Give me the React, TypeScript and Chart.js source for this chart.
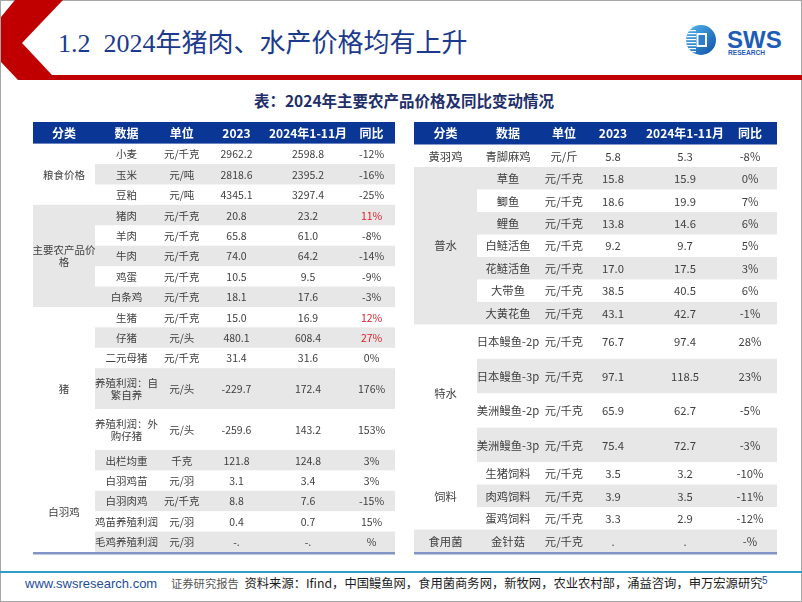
import React, { useEffect, useRef } from "react";
import { Chart, registerables } from "chart.js";

Chart.register(...registerables);

// ---------------- DATA ----------------
const headerLabels = ["分类", "数据", "单位", "2023", "2024年1-11月", "同比"];

// Left table
const leftCategories = ["粮食价格", "主要农产品价\n格", "猪", "白羽鸡"];
const leftCategorySizes = [3, 5, 6, 4];
const leftCategoryShaded = [false, true, false, false];
const leftItems = [
  "小麦", "玉米", "豆粕", "猪肉", "羊肉", "牛肉", "鸡蛋", "白条鸡",
  "生猪", "仔猪", "二元母猪", "养殖利润：自\n繁自养", "养殖利润：外\n购仔猪", "出栏均重",
  "白羽鸡苗", "白羽肉鸡", "鸡苗养殖利润", "毛鸡养殖利润",
];
const leftUnits = [
  "元/千克", "元/吨", "元/吨", "元/千克", "元/千克", "元/千克", "元/千克", "元/千克",
  "元/千克", "元/头", "元/千克", "元/头", "元/头", "千克",
  "元/羽", "元/千克", "元/羽", "元/羽",
];
const left2023: (number | null)[] = [
  2962.2, 2818.6, 4345.1, 20.8, 65.8, 74.0, 10.5, 18.1,
  15.0, 480.1, 31.4, -229.7, -259.6, 121.8, 3.1, 8.8, 0.4, null,
];
const left2024: (number | null)[] = [
  2598.8, 2395.2, 3297.4, 23.2, 61.0, 64.2, 9.5, 17.6,
  16.9, 608.4, 31.6, 172.4, 143.2, 124.8, 3.4, 7.6, 0.7, null,
];
const leftYoY: (number | null)[] = [
  -12, -16, -25, 11, -8, -14, -9, -3,
  12, 27, 0, 176, 153, 3, 3, -15, 15, null,
];
const leftRowSpans = [1, 1, 1, 1, 1, 1, 1, 1, 1, 1, 1, 2, 2, 1, 1, 1, 1, 1];
const leftRedItems = ["猪肉", "生猪", "仔猪"];

// Right table
const rightCategories = ["黄羽鸡", "普水", "特水", "饲料", "食用菌"];
const rightCategorySizes = [1, 7, 4, 3, 1];
const rightCategoryShaded = [false, true, false, false, true];
const rightItems = [
  "青脚麻鸡", "草鱼", "鲫鱼", "鲤鱼", "白鲢活鱼", "花鲢活鱼", "大带鱼", "大黄花鱼",
  "日本鳗鱼-2p", "日本鳗鱼-3p", "美洲鳗鱼-2p", "美洲鳗鱼-3p",
  "生猪饲料", "肉鸡饲料", "蛋鸡饲料", "金针菇",
];
const rightUnits = [
  "元/斤", "元/千克", "元/千克", "元/千克", "元/千克", "元/千克", "元/千克", "元/千克",
  "元/千克", "元/千克", "元/千克", "元/千克", "元/千克", "元/千克", "元/千克", "元/千克",
];
const right2023: (number | null)[] = [
  5.8, 15.8, 18.6, 13.8, 9.2, 17.0, 38.5, 43.1, 76.7, 97.1, 65.9, 75.4, 3.5, 3.9, 3.3, null,
];
const right2024: (number | null)[] = [
  5.3, 15.9, 19.9, 14.6, 9.7, 17.5, 40.5, 42.7, 97.4, 118.5, 62.7, 72.7, 3.2, 3.5, 2.9, null,
];
const rightYoY: (number | null)[] = [
  -8, 0, 7, 6, 5, 3, 6, -1, 28, 23, -5, -3, -10, -11, -12, null,
];
const rightRowSpans = [1, 1, 1, 1, 1, 1, 1, 1, 1.53, 1.53, 1.53, 1.53, 1, 1, 1, 1];
const rightRedItems: string[] = [];

const footerSource =
  "资料来源：Ifind，中国鳗鱼网，食用菌商务网，新牧网，农业农村部，涌益咨询，申万宏源研究";

// ---------------- STYLE / LAYOUT ----------------
const FONT = "'Noto Sans CJK SC', 'Noto Sans', sans-serif";
const HEADER_BG = "#0a3796";
const STRIPE = "#e7e7e7";
const TEXT = "#404040";
const RED = "#e3202c";
const BOTTOM_LINE = "#8394c6";

type Spec = {
  categories: string[];
  categorySizes: number[];
  categoryShaded: boolean[];
  items: string[];
  units: string[];
  v2023: (number | null)[];
  v2024: (number | null)[];
  yoy: (number | null)[];
  spans: number[];
  redItems: string[];
  missingValue: string;
  missingYoY: string;
};

type Layout = {
  left: number;
  top: number;
  width: number;
  height: number;
  colCenters: number[];
  catEdge: number;
  headerUnits: number;
  fontSize: number;
};

const leftSpec: Spec = {
  categories: leftCategories,
  categorySizes: leftCategorySizes,
  categoryShaded: leftCategoryShaded,
  items: leftItems,
  units: leftUnits,
  v2023: left2023,
  v2024: left2024,
  yoy: leftYoY,
  spans: leftRowSpans,
  redItems: leftRedItems,
  missingValue: "-.",
  missingYoY: "%",
};
const rightSpec: Spec = {
  categories: rightCategories,
  categorySizes: rightCategorySizes,
  categoryShaded: rightCategoryShaded,
  items: rightItems,
  units: rightUnits,
  v2023: right2023,
  v2024: right2024,
  yoy: rightYoY,
  spans: rightRowSpans,
  redItems: rightRedItems,
  missingValue: ".",
  missingYoY: "-%",
};

const leftLayout: Layout = {
  left: 33,
  top: 122,
  width: 362,
  height: 433,
  colCenters: [31, 93.6, 148.7, 203.5, 275, 338.6],
  catEdge: 62,
  headerUnits: 1.058,
  fontSize: 10.5,
};
const rightLayout: Layout = {
  left: 414,
  top: 122,
  width: 363,
  height: 433,
  colCenters: [31.5, 94, 150, 199, 271, 336],
  catEdge: 63,
  headerUnits: 1,
  fontSize: 11.3,
};

function fmt(v: number | null, missing: string) {
  return v === null ? missing : v.toFixed(1);
}
function fmtPct(v: number | null, missing: string) {
  return v === null ? missing : `${v}%`;
}

function makePlugin(spec: Spec, layout: Layout) {
  return {
    id: "tableCells",
    beforeDatasetsDraw(chart: any) {
      const { ctx } = chart;
      const xs = chart.scales.x;
      const ys = chart.scales.y;
      const X = (v: number) => xs.getPixelForValue(v);
      const Y = (v: number) => ys.getPixelForValue(v);
      const x0 = X(0);
      const x1 = X(layout.width);
      const xc = X(layout.catEdge);
      ctx.save();

      // header
      ctx.fillStyle = HEADER_BG;
      ctx.fillRect(x0, Y(0), x1 - x0, Y(layout.headerUnits) - Y(0));
      ctx.fillStyle = "#ffffff";
      ctx.font = `bold 12px ${FONT}`;
      ctx.textAlign = "center";
      ctx.textBaseline = "middle";
      headerLabels.forEach((h, i) => {
        ctx.fillText(h, X(layout.colCenters[i]), Y(layout.headerUnits / 2) + 0.5);
      });

      // row extents
      const tops: number[] = [];
      const bots: number[] = [];
      let pos = layout.headerUnits;
      spec.spans.forEach((s) => {
        tops.push(pos);
        pos += s;
        bots.push(pos);
      });

      // stripes
      spec.spans.forEach((_, i) => {
        if (i % 2 === 1) {
          ctx.fillStyle = STRIPE;
          ctx.fillRect(xc, Y(tops[i]), x1 - xc, Y(bots[i]) - Y(tops[i]));
        }
      });

      // category cells
      let r = 0;
      const lineGap = 12;
      const drawLines = (text: string, cx: number, cy: number) => {
        const lines = text.split("\n");
        lines.forEach((ln, k) => {
          const dy = (k - (lines.length - 1) / 2) * lineGap;
          ctx.fillText(ln, cx, cy + dy);
        });
      };
      spec.categories.forEach((c, gi) => {
        const first = r;
        const last = r + spec.categorySizes[gi] - 1;
        const t = tops[first];
        const b = bots[last];
        if (spec.categoryShaded[gi]) {
          ctx.fillStyle = STRIPE;
          ctx.fillRect(x0, Y(t), xc - x0, Y(b) - Y(t));
        }
        ctx.fillStyle = TEXT;
        ctx.font = `${layout.fontSize}px ${FONT}`;
        drawLines(c, X(layout.colCenters[0]), Y((t + b) / 2) + 0.5);
        r = last + 1;
      });

      // cells
      ctx.font = `${layout.fontSize}px ${FONT}`;
      spec.items.forEach((it, i) => {
        const cy = Y((tops[i] + bots[i]) / 2) + 0.5;
        ctx.fillStyle = TEXT;
        drawLines(it, X(layout.colCenters[1]), cy);
        ctx.fillText(spec.units[i], X(layout.colCenters[2]), cy);
        ctx.fillText(fmt(spec.v2023[i], spec.missingValue), X(layout.colCenters[3]), cy);
        ctx.fillText(fmt(spec.v2024[i], spec.missingValue), X(layout.colCenters[4]), cy);
        ctx.fillStyle = spec.redItems.includes(it) ? RED : TEXT;
        ctx.fillText(fmtPct(spec.yoy[i], spec.missingYoY), X(layout.colCenters[5]), cy);
      });

      // bottom rule
      ctx.fillStyle = BOTTOM_LINE;
      const yb = Y(pos);
      ctx.fillRect(x0, yb, x1 - x0, 2.5);
      ctx.restore();
    },
  };
}

function TableChart({ spec, layout }: { spec: Spec; layout: Layout }) {
  const ref = useRef<HTMLCanvasElement | null>(null);
  useEffect(() => {
    if (!ref.current) return;
    const total = layout.headerUnits + spec.spans.reduce((a, b) => a + b, 0);
    const chart = new Chart(ref.current, {
      type: "scatter",
      data: { datasets: [{ data: [], pointRadius: 0 }] },
      options: {
        animation: false,
        responsive: false,
        devicePixelRatio: 1,
        layout: { padding: { top: 0, left: 0, right: 0, bottom: 3 } },
        scales: {
          x: { type: "linear", min: 0, max: layout.width, display: false },
          y: { type: "linear", min: 0, max: total, reverse: true, display: false },
        },
        plugins: { legend: { display: false }, tooltip: { enabled: false } },
        events: [],
      },
      plugins: [makePlugin(spec, layout)],
    } as any);
    return () => chart.destroy();
  }, [spec, layout]);
  return (
    <div
      style={{
        position: "absolute",
        left: layout.left,
        top: layout.top,
        width: layout.width,
        height: layout.height,
      }}
    >
      <canvas ref={ref} width={layout.width} height={layout.height} style={{ display: "block" }} />
    </div>
  );
}

function Logo() {
  const stripes = [30, 33, 36, 39, 42, 45, 48, 51];
  return (
    <g>
      <defs>
        <linearGradient id="lg" x1="0" y1="0" x2="1" y2="1">
          <stop offset="0" stopColor="#55b8f0" />
          <stop offset="1" stopColor="#0b4fa6" />
        </linearGradient>
        <clipPath id="cc">
          <circle cx={701} cy={40} r={15} />
        </clipPath>
      </defs>
      <circle cx={701} cy={40} r={15} fill="url(#lg)" />
      <g clipPath="url(#cc)">
        {stripes.map((s) => (
          <rect key={s} x={685} y={s} width={11} height={1.2} fill="#ffffff" />
        ))}
      </g>
      <rect x={696.5} y={33} width={10.5} height={14} fill="#ffffff" />
      <rect x={698.5} y={35} width={6.5} height={10} fill="#2d7fd0" />
      <text x={727} y={48} fontFamily="'Liberation Sans', Arial, sans-serif" fontWeight="bold" fontSize={24} fill="#1f5cb8">
        SWS
      </text>
      <text x={728} y={54.5} fontFamily="'Liberation Sans', Arial, sans-serif" fontWeight="bold" fontSize={6.6} fill="#1f5cb8">
        RESEARCH
      </text>
    </g>
  );
}

export default function App() {
  useEffect(() => {
    document.body.style.margin = "0";
  }, []);
  return (
    <div style={{ position: "relative", width: 802, height: 602, background: "#ffffff", overflow: "hidden" }}>
      <svg width={802} height={602} style={{ position: "absolute", left: 0, top: 0 }}>
        <rect x={0.5} y={0.5} width={801} height={601} fill="none" stroke="#a6a6a6" strokeWidth={1} />
        <polygon points="15,0 63,0 22,43 52,75 802,75 802,80 18,80 1,62 1,17" fill="#c00000" />
        <text
          x={58}
          y={52}
          fontFamily="'Liberation Serif', 'Noto Sans CJK SC', serif"
          fontSize={26}
          fill="#1c3a8c"
          style={{ whiteSpace: "pre" }}
        >
          {"1.2  2024年猪肉、水产价格均有上升"}
        </text>
        <Logo />
        <text
          x={404}
          y={107}
          textAnchor="middle"
          fontFamily={FONT}
          fontWeight="bold"
          fontSize={15.5}
          fill="#1e2f6b"
        >
          表：2024年主要农产品价格及同比变动情况
        </text>
        <rect x={0} y={571} width={802} height={2} fill="#2f9fc9" />
        <text x={25} y={588} fontFamily="'Liberation Sans', Arial, sans-serif" fontSize={13} fill="#1d4d9c">
          www.swsresearch.com
        </text>
        <text x={171} y={588} fontFamily={FONT} fontSize={11.3} fill="#555555">
          证券研究报告
        </text>
        <text x={244.5} y={588} fontFamily={FONT} fontSize={12.3} fill="#1a1a1a">
          {footerSource}
        </text>
        <text x={762} y={584} fontFamily="'Liberation Sans', Arial, sans-serif" fontSize={10} fill="#1d4d9c">
          5
        </text>
      </svg>
      <TableChart spec={leftSpec} layout={leftLayout} />
      <TableChart spec={rightSpec} layout={rightLayout} />
    </div>
  );
}
